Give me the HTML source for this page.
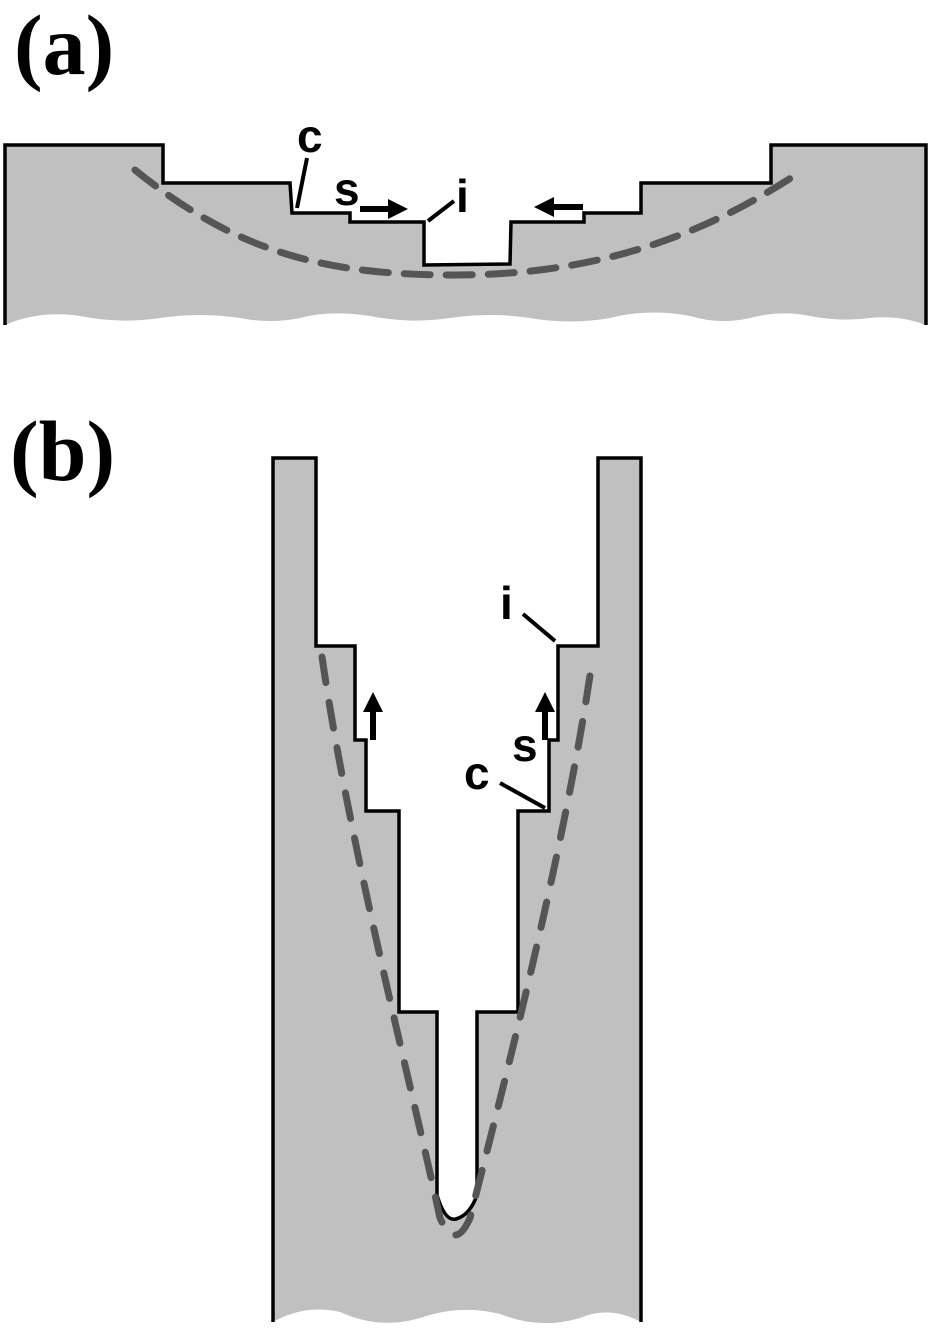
<!DOCTYPE html>
<html><head><meta charset="utf-8"><style>
html,body{margin:0;padding:0;background:#fff;}
svg{display:block;}
</style></head><body>
<svg width="936" height="1336" viewBox="0 0 936 1336" xmlns="http://www.w3.org/2000/svg">
<text x="14" y="74" font-family="Liberation Serif, serif" font-weight="bold" font-size="86">(a)</text>
<text x="10" y="480" font-family="Liberation Serif, serif" font-weight="bold" font-size="86">(b)</text>

<path d="M5,145 L163,145 L163,183 L290,183 L292,213 L350,213 L350,222 L424,222 L424,265 L510,264 L511,222 L584,222 L584,213 L641,213 L641,183 L771,183 L771,145 L926,145 L926,325 Q900,315 870,318 Q840,322 810,316 Q780,310 750,318 Q720,325 690,316 Q650,308 610,318 Q570,325 530,318 Q490,312 450,318 Q410,324 370,316 Q330,310 300,318 Q270,324 240,318 Q200,312 160,318 Q120,324 80,316 Q40,310 5,325 Z" fill="#c0c0c0"/>
<path d="M5,325 L5,145 L163,145 L163,183 L290,183 L292,213 L350,213 L350,222 L424,222 L424,265 L510,264 L511,222 L584,222 L584,213 L641,213 L641,183 L771,183 L771,145 L926,145 L926,325" fill="none" stroke="#000" stroke-width="3.5"/>
<path d="M135,170 C240,255 330,275 455,275 C580,275 690,245 800,172" fill="none" stroke="#555" stroke-width="7" stroke-dasharray="26,16" stroke-linecap="round"/>

<text x="297" y="152" font-family="Liberation Sans, sans-serif" font-weight="bold" font-size="46">c</text>
<line x1="307" y1="158" x2="297" y2="208" stroke="#000" stroke-width="4"/>
<text x="334" y="205" font-family="Liberation Sans, sans-serif" font-weight="bold" font-size="46">s</text>
<line x1="360" y1="209" x2="392" y2="209" stroke="#000" stroke-width="6"/>
<polygon points="388,199 408,209 388,219" fill="#000"/>
<text x="456" y="212" font-family="Liberation Sans, sans-serif" font-weight="bold" font-size="46">i</text>
<line x1="428" y1="221" x2="454" y2="201" stroke="#000" stroke-width="4"/>
<line x1="583" y1="207" x2="550" y2="207" stroke="#000" stroke-width="6"/>
<polygon points="554,197 534,207 554,217" fill="#000"/>

<path d="M273,458 L316,458 L316,646 L355,646 L355,740 L366,740 L366,811 L399,811 L399,1012 L437,1012 L437,1195 Q445,1222 456,1219 Q470,1215 477,1195 L477,1012 L518,1012 L518,811 L549,811 L549,740 L558,740 L558,646 L598,646 L598,458 L641,458 L641,1322 Q610,1305 580,1318 Q540,1330 500,1314 Q460,1304 420,1318 Q380,1330 340,1312 Q305,1304 273,1322 Z" fill="#c0c0c0"/>
<path d="M273,1322 L273,458 L316,458 L316,646 L355,646 L355,740 L366,740 L366,811 L399,811 L399,1012 L437,1012 L437,1195 Q445,1222 456,1219 Q470,1215 477,1195 L477,1012 L518,1012 L518,811 L549,811 L549,740 L558,740 L558,646 L598,646 L598,458 L641,458 L641,1322" fill="none" stroke="#000" stroke-width="3.5"/>
<path d="M322,657 C350,850 415,1100 440,1218 Q455,1252 470,1218 C500,1100 565,850 592,662" fill="none" stroke="#555" stroke-width="7" stroke-dasharray="26,20" stroke-linecap="round"/>

<text x="500" y="619" font-family="Liberation Sans, sans-serif" font-weight="bold" font-size="46">i</text>
<line x1="523" y1="614" x2="555" y2="641" stroke="#000" stroke-width="4"/>
<line x1="373" y1="740" x2="373" y2="708" stroke="#000" stroke-width="6"/>
<polygon points="363,712 373,692 383,712" fill="#000"/>
<line x1="545" y1="740" x2="545" y2="708" stroke="#000" stroke-width="6"/>
<polygon points="535,712 545,692 555,712" fill="#000"/>
<text x="512" y="761" font-family="Liberation Sans, sans-serif" font-weight="bold" font-size="46">s</text>
<text x="464" y="789" font-family="Liberation Sans, sans-serif" font-weight="bold" font-size="46">c</text>
<line x1="500" y1="783" x2="545" y2="808" stroke="#000" stroke-width="4"/>
</svg>
</body></html>
